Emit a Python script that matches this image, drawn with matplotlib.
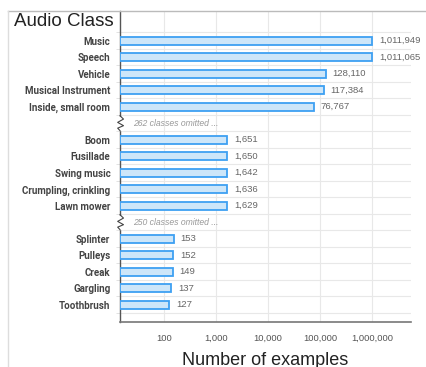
import matplotlib
matplotlib.use("Agg")
import matplotlib.pyplot as plt
from matplotlib.lines import Line2D
import matplotlib.transforms as mtransforms

# class counts, grouped into the three shown bands
top_classes = ["Music", "Speech", "Vehicle", "Musical Instrument", "Inside, small room"]
top_counts = [1011949, 1011065, 128110, 117384, 76767]
mid_classes = ["Boom", "Fusillade", "Swing music", "Crumpling, crinkling", "Lawn mower"]
mid_counts = [1651, 1650, 1642, 1636, 1629]
low_classes = ["Splinter", "Pulleys", "Creak", "Gargling", "Toothbrush"]
low_counts = [153, 152, 149, 137, 127]
omitted = [262, 250]
x_ticks = [100, 1000, 10000, 100000, 1000000]

# rows: (label, count) for bars, (None, n_omitted) for break rows
rows = ([(c, v) for c, v in zip(top_classes, top_counts)] + [(None, omitted[0])]
        + [(c, v) for c, v in zip(mid_classes, mid_counts)] + [(None, omitted[1])]
        + [(c, v) for c, v in zip(low_classes, low_counts)])

W, H = 426, 367
fig = plt.figure(figsize=(W / 100, H / 100), dpi=100)
ax = fig.add_axes([120 / W, 1 - 321.7 / H, 291 / W, 310.7 / H])

x0, x1 = 14.3, 5.6e6
ax.set_xscale("log")
ax.set_xlim(x0, x1)
ax.set_ylim(17.03, -1.8)

fill = "#cde6f9"
edge = "#3ea0f2"
ytick_pos, ytick_lab = [], []
trans = mtransforms.blended_transform_factory(ax.transAxes, ax.transData)
for i, (label, val) in enumerate(rows):
    if label is None:
        ax.text(0.045, i, f"{val} classes omitted ...", transform=trans,
                fontsize=6.2, color="#999999", style="italic",
                va="center", ha="left", family="Liberation Sans")
        # zigzag break on the axis line
        ax.add_patch(plt.Rectangle((-0.01, i - 0.4), 0.02, 0.8, transform=trans,
                                   color="white", zorder=5, clip_on=False))
        zx = [0, 0.012, -0.008, 0.012, -0.008, 0]
        zy = [i - 0.45, i - 0.25, i - 0.05, i + 0.15, i + 0.3, i + 0.45]
        ax.add_line(Line2D(zx, zy, transform=trans, color="#444444", lw=0.8,
                           zorder=6, clip_on=False))
        continue
    ax.barh(i, val - x0, left=x0, height=0.5, color=fill, edgecolor=edge,
            linewidth=1.3, zorder=3)
    ax.text(val * 1.35, i, f"{val:,}", fontsize=6.8, color="#666666",
            va="center", ha="left", family="Liberation Sans")
    ytick_pos.append(i)
    ytick_lab.append(label)

ax.set_yticks(ytick_pos)
ax.set_yticklabels(ytick_lab, fontsize=7.0, color="#444444",
                   family="Roboto", fontweight="bold")
ax.set_yticks([i - 0.5 for i in range(18)], minor=True)
ax.tick_params(axis="y", which="major", length=0, pad=7)
ax.tick_params(axis="y", which="minor", length=3, color="#dddddd")
ax.grid(axis="y", which="minor", color="#e8e8e8", lw=0.8, zorder=0)

ax.set_xticks(x_ticks)
ax.set_xticklabels([f"{t:,}" for t in x_ticks], fontsize=6.8, color="#555555",
                   family="Liberation Sans")
ax.xaxis.set_minor_locator(matplotlib.ticker.NullLocator())
ax.tick_params(axis="x", length=0, pad=9)
ax.grid(axis="x", which="major", color="#e8e8e8", lw=0.8, zorder=0)
ax.set_xlabel("Number of examples", fontsize=13, color="#222222",
              family="Liberation Sans", labelpad=6)

for s in ["top", "right"]:
    ax.spines[s].set_visible(False)
ax.spines["left"].set_color("#555555")
ax.spines["bottom"].set_color("#777777")
ax.spines["left"].set_linewidth(1.0)
ax.spines["bottom"].set_linewidth(1.2)

# outer frame
fig.add_artist(Line2D([8 / W, 1], [1 - 11 / H, 1 - 11 / H], color="#bbbbbb", lw=1))
fig.add_artist(Line2D([8 / W, 8 / W], [0, 1 - 11 / H], color="#dddddd", lw=1))

fig.text(14 / W, 1 - 21.5 / H, "Audio Class", fontsize=13.5, color="#222222",
         va="center", ha="left", family="Liberation Sans")

fig.savefig("out.png", dpi=100)
